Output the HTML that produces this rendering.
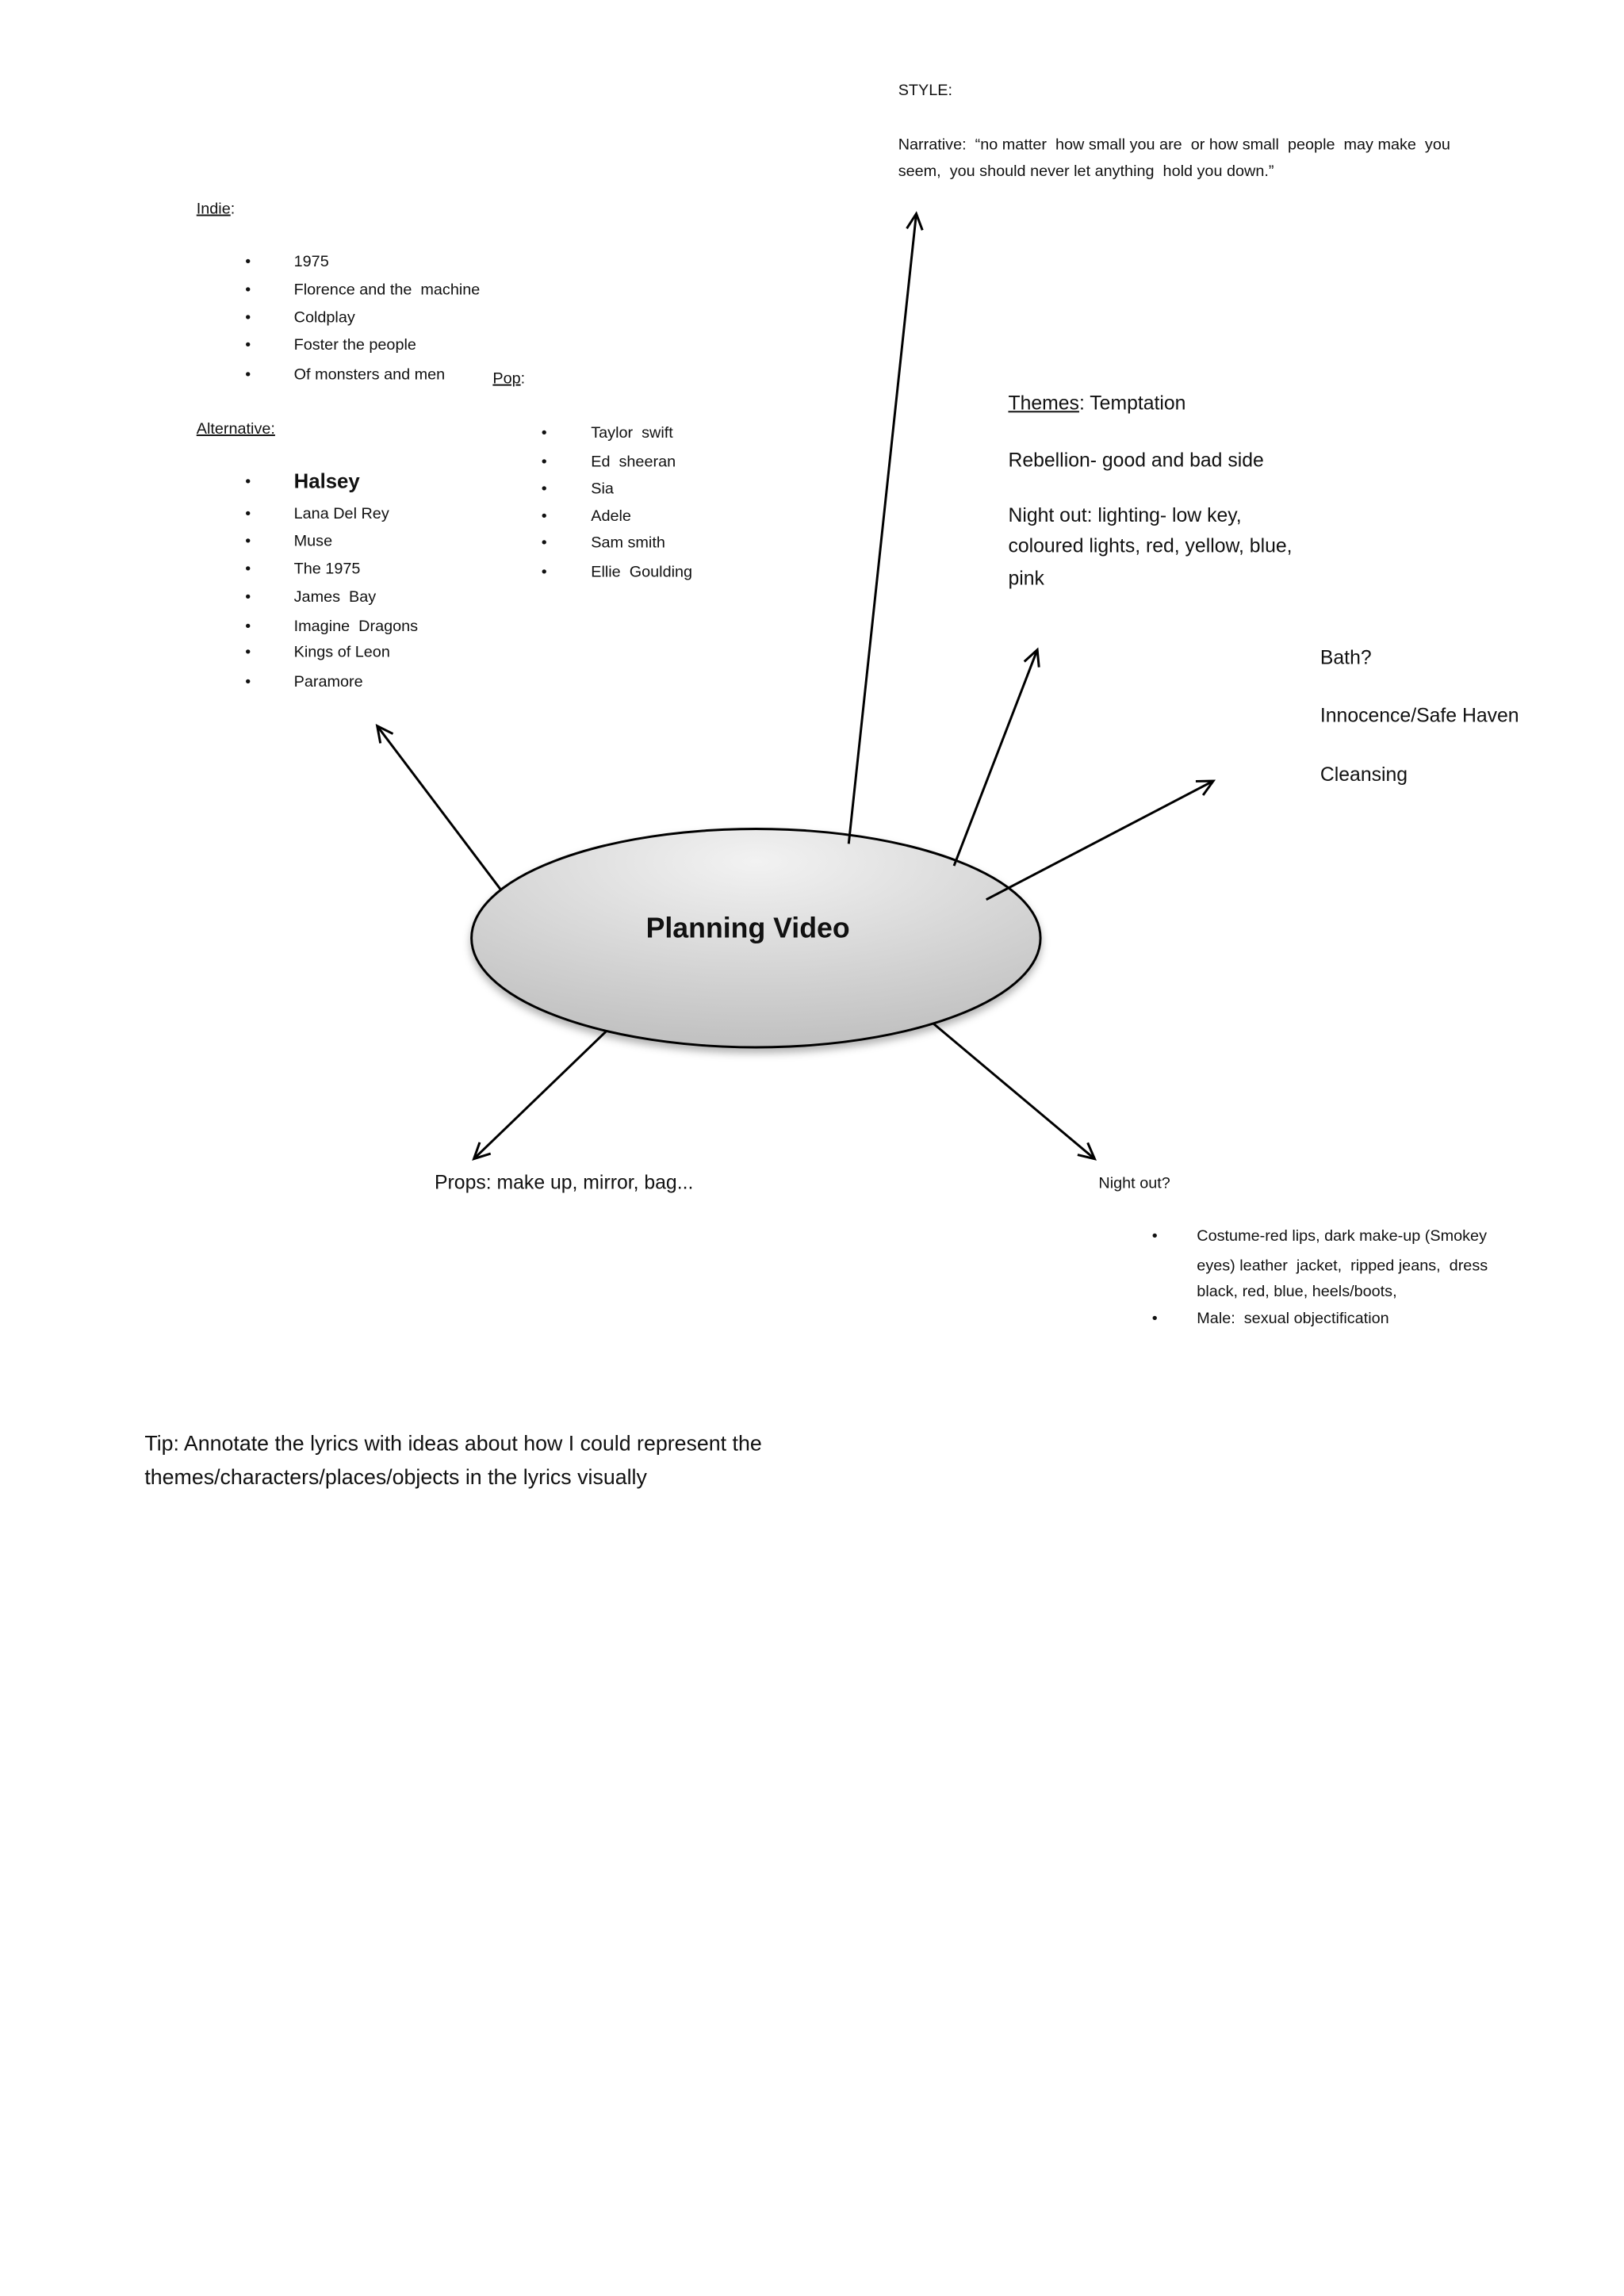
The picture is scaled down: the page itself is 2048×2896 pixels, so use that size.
<!DOCTYPE html>
<html><head><meta charset="utf-8"><style>
html,body{margin:0;padding:0;background:#fff;}
body{width:2048px;height:2896px;position:relative;overflow:hidden;font-family:"Liberation Sans",sans-serif;color:#111;}
#w{position:absolute;left:0;top:0;width:2048px;height:2896px;transform:scale(0.991);transform-origin:0 0;}
.t{position:absolute;white-space:nowrap;line-height:1;}
.s{font-size:20px;}
.m{font-size:25px;}
.b{position:absolute;font-size:20px;line-height:1;}
u{text-decoration:underline;}
</style></head><body><div id="w">
<svg width="2048" height="2896" style="position:absolute;left:0;top:0">
<defs>
<radialGradient id="g" cx="0.5" cy="0.15" r="0.9">
<stop offset="0" stop-color="#f2f2f2"/><stop offset="1" stop-color="#bdbdbd"/>
</radialGradient>
<filter id="sh"><feDropShadow dx="0" dy="6" stdDeviation="5" flood-color="#000" flood-opacity="0.3"/></filter>
<marker id="a" markerWidth="30" markerHeight="30" refX="22" refY="12" orient="auto" markerUnits="userSpaceOnUse">
<path d="M2,2 L22,12 L2,22" fill="none" stroke="#000" stroke-width="3"/>
</marker>
</defs>
<ellipse cx="962" cy="1194" rx="362" ry="139" fill="url(#g)" stroke="#000" stroke-width="3" filter="url(#sh)"/>
<g stroke="#000" stroke-width="3" fill="none" marker-end="url(#a)">
<line x1="637" y1="1132" x2="480" y2="924"/>
<line x1="1080" y1="1074" x2="1166" y2="272"/>
<line x1="1214" y1="1102" x2="1320" y2="827"/>
<line x1="1255" y1="1145" x2="1544" y2="994"/>
<line x1="771" y1="1313" x2="603" y2="1475"/>
<line x1="1188" y1="1303" x2="1393" y2="1475"/>
</g>
</svg>

<div class="t s" style="left:1143px;top:105px">STYLE:</div>
<div class="t s" style="left:1143px;top:174px">Narrative:&nbsp; “no matter&nbsp; how small you are&nbsp; or how small&nbsp; people&nbsp; may make&nbsp; you</div>
<div class="t s" style="left:1143px;top:208px">seem,&nbsp; you should never let anything&nbsp; hold you down.”</div>

<div class="t s" style="left:250px;top:256px"><u>Indie</u>:</div>
<div class="b" style="left:312px;top:323px">•</div><div class="t s" style="left:374px;top:323px">1975</div>
<div class="b" style="left:312px;top:359px">•</div><div class="t s" style="left:374px;top:359px">Florence and the&nbsp; machine</div>
<div class="b" style="left:312px;top:394px">•</div><div class="t s" style="left:374px;top:394px">Coldplay</div>
<div class="b" style="left:312px;top:429px">•</div><div class="t s" style="left:374px;top:429px">Foster the people</div>
<div class="b" style="left:312px;top:467px">•</div><div class="t s" style="left:374px;top:467px">Of monsters and men</div>

<div class="t s" style="left:627px;top:472px"><u>Pop</u>:</div>
<div class="t s" style="left:250px;top:536px"><u>Alternative:</u></div>
<div class="b" style="left:312px;top:603px">•</div><div class="t" style="left:374px;top:599px;font-size:26px;font-weight:bold">Halsey</div>
<div class="b" style="left:312px;top:644px">•</div><div class="t s" style="left:374px;top:644px">Lana Del Rey</div>
<div class="b" style="left:312px;top:679px">•</div><div class="t s" style="left:374px;top:679px">Muse</div>
<div class="b" style="left:312px;top:714px">•</div><div class="t s" style="left:374px;top:714px">The 1975</div>
<div class="b" style="left:312px;top:750px">•</div><div class="t s" style="left:374px;top:750px">James&nbsp; Bay</div>
<div class="b" style="left:312px;top:787px">•</div><div class="t s" style="left:374px;top:787px">Imagine&nbsp; Dragons</div>
<div class="b" style="left:312px;top:820px">•</div><div class="t s" style="left:374px;top:820px">Kings of Leon</div>
<div class="b" style="left:312px;top:858px">•</div><div class="t s" style="left:374px;top:858px">Paramore</div>

<div class="b" style="left:689px;top:541px">•</div><div class="t s" style="left:752px;top:541px">Taylor&nbsp; swift</div>
<div class="b" style="left:689px;top:578px">•</div><div class="t s" style="left:752px;top:578px">Ed&nbsp; sheeran</div>
<div class="b" style="left:689px;top:612px">•</div><div class="t s" style="left:752px;top:612px">Sia</div>
<div class="b" style="left:689px;top:647px">•</div><div class="t s" style="left:752px;top:647px">Adele</div>
<div class="b" style="left:689px;top:681px">•</div><div class="t s" style="left:752px;top:681px">Sam smith</div>
<div class="b" style="left:689px;top:718px">•</div><div class="t s" style="left:752px;top:718px">Ellie&nbsp; Goulding</div>

<div class="t m" style="left:1283px;top:501px"><u>Themes</u>: Temptation</div>
<div class="t m" style="left:1283px;top:574px">Rebellion- good and bad side</div>
<div class="t m" style="left:1283px;top:644px">Night out: lighting- low key,</div>
<div class="t m" style="left:1283px;top:683px">coloured lights, red, yellow, blue,</div>
<div class="t m" style="left:1283px;top:724px">pink</div>

<div class="t m" style="left:1680px;top:825px">Bath?</div>
<div class="t m" style="left:1680px;top:899px">Innocence/Safe Haven</div>
<div class="t m" style="left:1680px;top:974px">Cleansing</div>

<div class="t" style="left:822px;top:1163px;font-size:36px;font-weight:bold">Planning Video</div>

<div class="t m" style="left:553px;top:1493px">Props: make up, mirror, bag...</div>
<div class="t s" style="left:1398px;top:1496px">Night out?</div>

<div class="b" style="left:1466px;top:1563px">•</div><div class="t s" style="left:1523px;top:1563px">Costume-red lips, dark make-up (Smokey</div>
<div class="t s" style="left:1523px;top:1601px">eyes) leather&nbsp; jacket,&nbsp; ripped jeans,&nbsp; dress</div>
<div class="t s" style="left:1523px;top:1634px">black, red, blue, heels/boots,</div>
<div class="b" style="left:1466px;top:1668px">•</div><div class="t s" style="left:1523px;top:1668px">Male:&nbsp; sexual objectification</div>

<div class="t" style="left:184px;top:1824px;font-size:27px">Tip: Annotate the lyrics with ideas about how I could represent the</div>
<div class="t" style="left:184px;top:1867px;font-size:27px">themes/characters/places/objects in the lyrics visually</div>
</div></body></html>
